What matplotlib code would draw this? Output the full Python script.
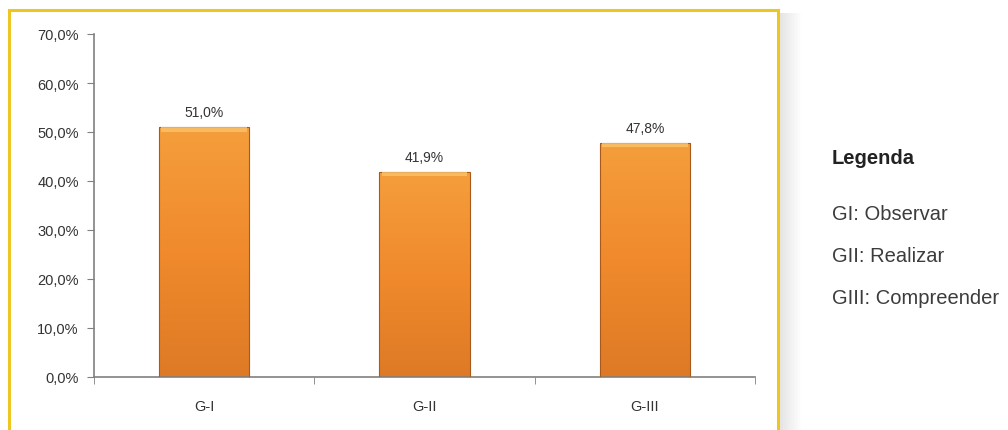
import numpy as np
import matplotlib.pyplot as plt
from matplotlib.patches import Rectangle
from matplotlib.colors import LinearSegmentedColormap
from matplotlib.ticker import FuncFormatter

categories = ['G-I', 'G-II', 'G-III']
values = [51.0, 41.9, 47.8]
legend_title = 'Legenda'
legend_items = ['GI: Observar', 'GII: Realizar', 'GIII: Compreender']

W, H = 1008, 431
fig = plt.figure(figsize=(W / 100, H / 100), dpi=100)
fig.patch.set_facecolor('white')

# yellow frame + soft shadow on the right
for i in range(14):
    fig.patches.append(Rectangle((780 / W + i / W * 1.5, 0), 1.5 / W, 1 - 14 / H,
                                 transform=fig.transFigure, facecolor='#707070',
                                 alpha=0.18 * (1 - i / 14), edgecolor='none', zorder=0))
fig.patches.append(Rectangle((9 / W, -0.05), 769 / W, 1.05 - 11 / H,
                             transform=fig.transFigure, facecolor='white',
                             edgecolor='#EEC622', linewidth=2.2, zorder=1))

ax = fig.add_axes([94 / W, 1 - 378 / H, (755 - 94) / W, (378 - 35) / H])
ax.set_zorder(2)
ax.patch.set_alpha(0)

x = np.arange(len(categories))
bw = 0.41
bars = ax.bar(x, values, width=bw, color='none', edgecolor='#A85A1C', linewidth=0.8, zorder=3)

cmap = LinearSegmentedColormap.from_list('org', ['#DE7A26', '#F08A2C', '#F59E3C'])
grad = np.linspace(0, 1, 256).reshape(-1, 1)
for b in bars:
    x0, w, h = b.get_x(), b.get_width(), b.get_height()
    im = ax.imshow(grad, cmap=cmap, aspect='auto', origin='lower',
                   extent=[x0, x0 + w, 0, h], zorder=2)
    im.set_clip_path(b)
    # top bevel highlight
    ax.add_patch(Rectangle((x0 + 0.01, h - 0.9), w - 0.02, 0.9, facecolor='#FBC36A',
                           edgecolor='none', alpha=0.8, zorder=3))
    ax.text(x0 + w / 2, h + 1.6, f'{h:.1f}'.replace('.', ',') + '%', ha='center',
            va='bottom', fontsize=10, color='#333333', family='Liberation Sans')

ax.set_xlim(-0.5, len(categories) - 0.5)
ax.set_ylim(0, 70)
ax.set_yticks(np.arange(0, 71, 10))
ax.yaxis.set_major_formatter(FuncFormatter(lambda v, p: f'{v:.1f}'.replace('.', ',') + '%'))
ax.set_xticks(x)
ax.set_xticklabels(categories)
ax.set_xticks(np.arange(-0.5, len(categories)), minor=True)
ax.tick_params(axis='x', which='major', length=0, pad=16)
ax.tick_params(axis='x', which='minor', length=5, color='#808080', direction='out')
ax.tick_params(axis='y', length=5, color='#808080', pad=6)
for lab in ax.get_xticklabels() + ax.get_yticklabels():
    lab.set_fontsize(10.5)
    lab.set_color('#333333')
    lab.set_family('Liberation Sans')
for s in ['top', 'right']:
    ax.spines[s].set_visible(False)
for s in ['left', 'bottom']:
    ax.spines[s].set_color('#808080')
    ax.spines[s].set_linewidth(1.2)

fig.text(832 / W, 1 - 158 / H, legend_title, fontsize=14.5, fontweight='bold',
         color='#222222', family='Liberation Sans', va='center')
for i, item in enumerate(legend_items):
    fig.text(832 / W, 1 - (215 + 42 * i) / H, item, fontsize=14.5, color='#3c3c3c',
             family='Liberation Sans', va='center')

fig.savefig('out.png', dpi=100)
